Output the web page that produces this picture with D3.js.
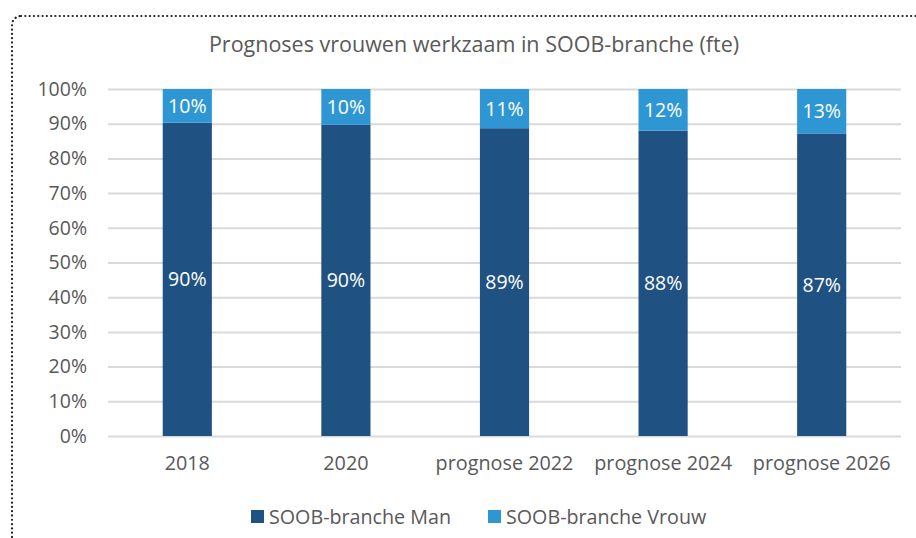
<!DOCTYPE html>
<html>
<head>
<meta charset="utf-8">
<script src="https://cdn.jsdelivr.net/npm/d3@7"></script>
<style>
  body { margin: 0; background: #fff; }
  svg text { font-family: "Open Sans", sans-serif; }
</style>
</head>
<body>
<div id="chart"></div>
<script>
// data
var categories = ["2018", "2020", "prognose 2022", "prognose 2024", "prognose 2026"];
var seriesNames = ["SOOB-branche Man", "SOOB-branche Vrouw"];
var man   = [0.903, 0.897, 0.887, 0.880, 0.872];
var vrouw = [0.097, 0.103, 0.113, 0.120, 0.128];
var yTicks = [0, 0.1, 0.2, 0.3, 0.4, 0.5, 0.6, 0.7, 0.8, 0.9, 1];
var colors = ["#1f5283", "#2e97d3"];

var width = 916, height = 538;
var margin = {left: 108, right: 15, top: 89, bottom: 102};

var svg = d3.select("#chart").append("svg")
    .attr("width", width)
    .attr("height", height);

// rand om de grafiek (gestippeld)
svg.append("rect")
    .attr("x", 12).attr("y", 16)
    .attr("width", 930).attr("height", 560)
    .attr("rx", 9).attr("ry", 9)
    .attr("fill", "none")
    .attr("stroke", "#222")
    .attr("stroke-width", 2.2)
    .attr("stroke-dasharray", "0.1 4.2")
    .attr("stroke-linecap", "round");

var x = d3.scaleBand()
    .domain(categories)
    .range([margin.left, width - margin.right])
    .paddingInner(0.69)
    .paddingOuter(0.345);

var y = d3.scaleLinear()
    .domain([0, 1])
    .range([height - margin.bottom, margin.top]);

// titel
svg.append("text")
    .attr("x", 474).attr("y", 52)
    .attr("text-anchor", "middle")
    .attr("fill", "#595959")
    .style("font-size", "21.5px")
    .text("Prognoses vrouwen werkzaam in SOOB-branche (fte)");

// y-as met rasterlijnen
var yAxis = svg.append("g")
    .attr("transform", "translate(" + margin.left + ",0)")
    .call(d3.axisLeft(y).tickValues(yTicks).tickFormat(d3.format(".0%"))
        .tickSize(-(width - margin.left - margin.right)).tickPadding(21));
yAxis.select(".domain").remove();
yAxis.selectAll(".tick line").attr("stroke", "#d9d9d9").attr("stroke-width", 2);
yAxis.selectAll(".tick text").attr("fill", "#595959").style("font-size", "19.5px");

// x-as
var xAxis = svg.append("g")
    .attr("transform", "translate(0," + (height - margin.bottom) + ")")
    .call(d3.axisBottom(x).tickSize(0).tickPadding(20));
xAxis.select(".domain").remove();
xAxis.selectAll(".tick text").attr("fill", "#595959").style("font-size", "19.8px");

var rows = categories.map(function (c, i) {
    return {cat: c, man: man[i], vrouw: vrouw[i]};
});
var stack = d3.stack().keys(["man", "vrouw"]);
var layers = stack(rows);

var groups = svg.selectAll(".serie")
    .data(layers)
    .enter().append("g")
    .attr("class", "serie")
    .attr("fill", function (d, i) { return colors[i]; });

groups.selectAll("rect")
    .data(function (d) { return d; })
    .enter().append("rect")
    .attr("x", function (d) { return x(d.data.cat); })
    .attr("y", function (d) { return y(d[1]); })
    .attr("width", x.bandwidth())
    .attr("height", function (d) { return y(d[0]) - y(d[1]); });

// labels in de staven
groups.selectAll("text")
    .data(function (d) { return d; })
    .enter().append("text")
    .attr("x", function (d) { return x(d.data.cat) + x.bandwidth() / 2; })
    .attr("y", function (d) { return (y(d[0]) + y(d[1])) / 2; })
    .attr("dy", "0.36em")
    .attr("text-anchor", "middle")
    .attr("fill", "#fff")
    .style("font-size", "19.5px")
    .text(function (d) { return d3.format(".0%")(d[1] - d[0]); });

// legenda
var legendPos = [251, 488];
var legend = svg.selectAll(".legend")
    .data(seriesNames)
    .enter().append("g")
    .attr("class", "legend")
    .attr("transform", function (d, i) { return "translate(" + legendPos[i] + ",510)"; });
legend.append("rect")
    .attr("width", 13).attr("height", 13)
    .attr("fill", function (d, i) { return colors[i]; });
legend.append("text")
    .attr("x", 18).attr("y", 6.5)
    .attr("dy", "0.36em")
    .attr("fill", "#595959")
    .style("font-size", "19.7px")
    .text(function (d) { return d; });
</script>
</body>
</html>
